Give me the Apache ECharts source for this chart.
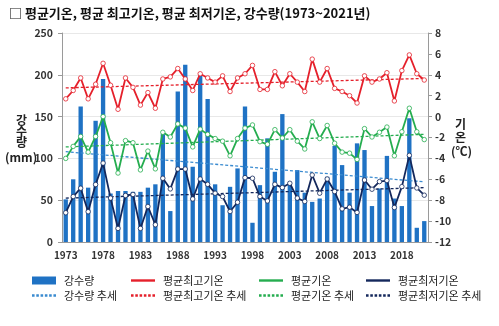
<!DOCTYPE html>
<html><head><meta charset="utf-8">
<script src="https://cdn.jsdelivr.net/npm/echarts@6/dist/echarts.min.js"></script>
<style>html,body{margin:0;padding:0;background:#fff}#c{width:499px;height:326px}</style>
</head><body><div id="c"></div>
<script>
const years = ['1973','1974','1975','1976','1977','1978','1979','1980','1981','1982',
'1983','1984','1985','1986','1987','1988','1989','1990','1991','1992',
'1993','1994','1995','1996','1997','1998','1999','2000','2001','2002',
'2003','2004','2005','2006','2007','2008','2009','2010','2011','2012',
'2013','2014','2015','2016','2017','2018','2019','2020','2021'];
const precip = [51,75,162,65,145,195,58,61,61,60,
60,65,69,129,37,180,212,90,200,171,
69,44,66,88,162,23,68,124,84,153,
70,86,59,48,52,78,115,92,59,118,
110,43,64,103,52,43,148,17,25];
const maxT = [1.7,2.5,3.7,1.7,3.1,5.1,3.0,0.7,3.7,2.8,
1.1,2.3,0.8,3.6,3.8,4.6,3.6,2.5,4.1,3.7,
3.3,3.9,2.4,3.7,4.1,4.9,2.6,2.6,4.3,2.95,
4.1,3.3,2.4,5.5,3.3,4.6,2.7,2.4,2.0,1.3,
3.9,3.3,3.6,4.2,1.5,4.4,5.9,4.1,3.5];
const meanT = [-4.0,-2.85,-1.9,-3.4,-1.9,0.0,-2.5,-5.4,-2.3,-2.5,
-5.1,-3.3,-5.0,-1.5,-1.95,-0.7,-1.1,-2.9,-1.2,-1.7,
-2.1,-2.35,-3.75,-2.1,-1.1,-0.8,-2.4,-2.65,-1.25,-2.05,
-1.25,-2.35,-3.1,-0.5,-2.1,-0.85,-2.55,-3.4,-3.5,-4.1,
-1.15,-1.95,-1.5,-1.0,-3.75,-1.45,0.8,-1.45,-2.2];
const minT = [-9.2,-7.65,-6.85,-9.1,-6.5,-4.45,-7.8,-10.7,-7.55,-7.45,
-10.7,-8.6,-10.35,-5.9,-6.92,-5.02,-5.02,-7.88,-5.97,-6.48,
-7.33,-7.65,-9.08,-8.2,-5.84,-5.9,-7.65,-8.07,-6.48,-6.79,
-6.38,-7.8,-8.12,-5.59,-7.33,-5.97,-7.17,-8.83,-8.67,-9.17,
-6.07,-6.95,-6.22,-6.12,-8.7,-6.7,-3.71,-6.83,-7.52];
// trend line endpoints (first year, last year)
const precipTrendEnds = [108, 72];
const maxTrendEnds = [2.75, 3.65];
const meanTrendEnds = [-2.9, -1.7];
const minTrendEnds = [-7.8, -6.8];
const precipTicks = [0, 250, 50];
const tempTicks = [-12, 8, 2];

function ends(e){ return years.map((y,i)=> i===0 ? e[0] : (i===years.length-1 ? e[1] : null)); }

const C = {bar:'#1f72c4', red:'#e5202b', green:'#25ad4f', navy:'#14285c', bt:'#3a8bd0'};
const F = '"Noto Sans CJK KR", "Noto Sans", sans-serif';
const lineIcon = 'path://M0,0h24v2.4h-24z';
const dotIcon = 'path://M0,0h2.4v2.4h-2.4zM4,0h2.4v2.4h-2.4zM8,0h2.4v2.4h-2.4zM12,0h2.4v2.4h-2.4zM16,0h2.4v2.4h-2.4zM20,0h2.4v2.4h-2.4z';

function lg(left, a, b, col, col2, firstIcon){
  return {left:left, top:270, orient:'vertical', itemGap:4, itemWidth:24, itemHeight:8,
    textStyle:{fontFamily:F, fontSize:11, color:'#222', padding:[0,0,0,3]},
    selectedMode:false,
    data:[{name:a, icon:firstIcon, itemStyle:{color:col, borderWidth:0}},
          {name:b, icon:dotIcon, itemStyle:{color:col2, borderWidth:0}}]};
}

function tline(name, data, col, yi, w){
  return {name, type:'line', yAxisIndex:yi, data, connectNulls:true, symbol:'none',
    lineStyle:{color:col, width:w||1.3, type:[3,2]}, itemStyle:{color:col}, z:4, silent:true};
}
function dline(name, data, col){
  return {name, type:'line', yAxisIndex:1, data, symbol:'circle', symbolSize:4.5,
    lineStyle:{color:col, width:1.8}, itemStyle:{color:'#fff', borderColor:col, borderWidth:0.8, opacity:1},
    z:5, silent:true};
}

const chart = echarts.init(document.getElementById('c'), null, {renderer:'canvas'});
chart.setOption({
  animation:false,
  backgroundColor:'#fff',
  title:{text:'□ 평균기온, 평균 최고기온, 평균 최저기온, 강수량(1973~2021년)', left:4, top:2,
    textStyle:{fontFamily:F, fontSize:13, fontWeight:'bold', color:'#111'}},
  grid:{left:62, right:71, top:33, bottom:84},
  legend:[
    lg(27,'강수량','강수량 추세',C.bar,C.bt,'rect'),
    lg(126,'평균최고기온','평균최고기온 추세',C.red,C.red,lineIcon),
    lg(254,'평균기온','평균기온 추세',C.green,C.green,lineIcon),
    lg(361,'평균최저기온','평균최저기온 추세',C.navy,C.navy,lineIcon)
  ],
  xAxis:{type:'category', data:years, boundaryGap:true,
    axisLine:{lineStyle:{color:'#9a9a9a'}},
    axisTick:{interval:4, length:4, lineStyle:{color:'#9a9a9a'}},
    axisLabel:{interval:4, margin:8, fontFamily:F, fontSize:10, fontWeight:'bold', color:'#333'}},
  yAxis:[
    {type:'value', min:precipTicks[0], max:precipTicks[1], interval:precipTicks[2], position:'left',
     axisLine:{show:true, lineStyle:{color:'#9a9a9a'}}, axisTick:{show:true, length:4, lineStyle:{color:'#9a9a9a'}},
     axisLabel:{margin:9, fontFamily:F, fontSize:10.5, fontWeight:'bold', color:'#333'},
     splitLine:{lineStyle:{color:'#e8e8e8'}}},
    {type:'value', min:tempTicks[0], max:tempTicks[1], interval:tempTicks[2], position:'right',
     axisLine:{show:true, lineStyle:{color:'#9a9a9a'}}, axisTick:{show:true, length:4, lineStyle:{color:'#9a9a9a'}},
     axisLabel:{margin:7, fontFamily:F, fontSize:10.5, fontWeight:'bold', color:'#333'},
     splitLine:{show:false}}
  ],
  graphic:[
    {type:'text', left:16, top:114, style:{text:'강\n수\n량', font:'bold 12px '+F, fill:'#222', lineHeight:11, align:'center'}},
    {type:'text', left:5, top:151, style:{text:'(mm)', font:'bold 12px '+F, fill:'#222'}},
    {type:'text', left:455, top:118, style:{text:'기\n온', font:'bold 12px '+F, fill:'#222', lineHeight:13}},
    {type:'text', left:451, top:145, style:{text:'(℃)', font:'bold 12px '+F, fill:'#222'}}
  ],
  series:[
    {name:'강수량', type:'bar', yAxisIndex:0, data:precip, barWidth:'58%', itemStyle:{color:C.bar}, z:2, silent:true},
    tline('강수량 추세', ends(precipTrendEnds), C.bt, 0),
    tline('평균최고기온 추세', ends(maxTrendEnds), C.red, 1),
    tline('평균기온 추세', ends(meanTrendEnds), C.green, 1),
    tline('평균최저기온 추세', ends(minTrendEnds), C.navy, 1),
    dline('평균최고기온', maxT, C.red),
    dline('평균기온', meanT, C.green),
    dline('평균최저기온', minT, C.navy)
  ]
});
</script></body></html>
